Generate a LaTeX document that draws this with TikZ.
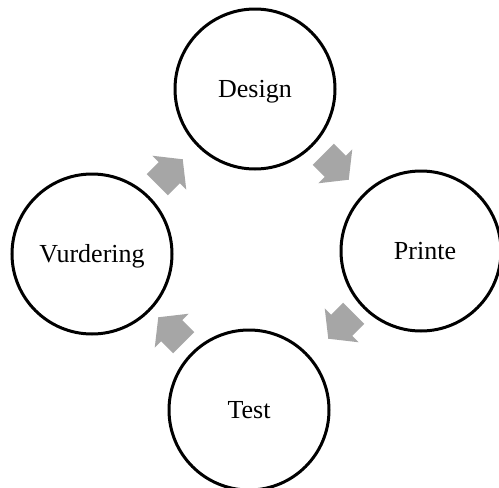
\documentclass[tikz,border=0pt]{standalone}
\usepackage{fontspec}
\setmainfont{Liberation Serif}
\definecolor{arrowgray}{RGB}{166,166,166}
\tikzset{
  stage/.style={circle, draw=black, line width=3pt, minimum size=160pt, inner sep=0pt,
    text height=18pt, text depth=2pt, font=\fontsize{26}{30}\selectfont},
  blockarrow/.pic={
    \fill[arrowgray] (-18,-15) -- (-1,-15) -- (-1,-24) -- (18,0) -- (-1,24) -- (-1,15) -- (-18,15) -- cycle;
  }
}
\begin{document}
\begin{tikzpicture}[x=1pt,y=-1pt]
  \useasboundingbox (0,0) rectangle (499,488);
  \fill[white] (0,0) rectangle (499,488);

  % the four stages of the cycle
  \node[stage] (design)    at (255,89)  {Design};
  \node[stage] (printe)    at (421,251) {\hspace*{8pt}Printe};
  \node[stage] (test)      at (249,410) {Test};
  \node[stage] (vurdering) at (92,254)  {Vurdering};

  % turning arrows between the stages (clockwise)
  \coordinate (a1) at (170,172);
  \coordinate (a2) at (336,167);
  \coordinate (a3) at (341,326);
  \coordinate (a4) at (171,330);
  \pic[rotate=45]   at (a1) {blockarrow};
  \pic[rotate=-45]  at (a2) {blockarrow};
  \pic[rotate=-135] at (a3) {blockarrow};
  \pic[rotate=135]  at (a4) {blockarrow};
\end{tikzpicture}
\end{document}
